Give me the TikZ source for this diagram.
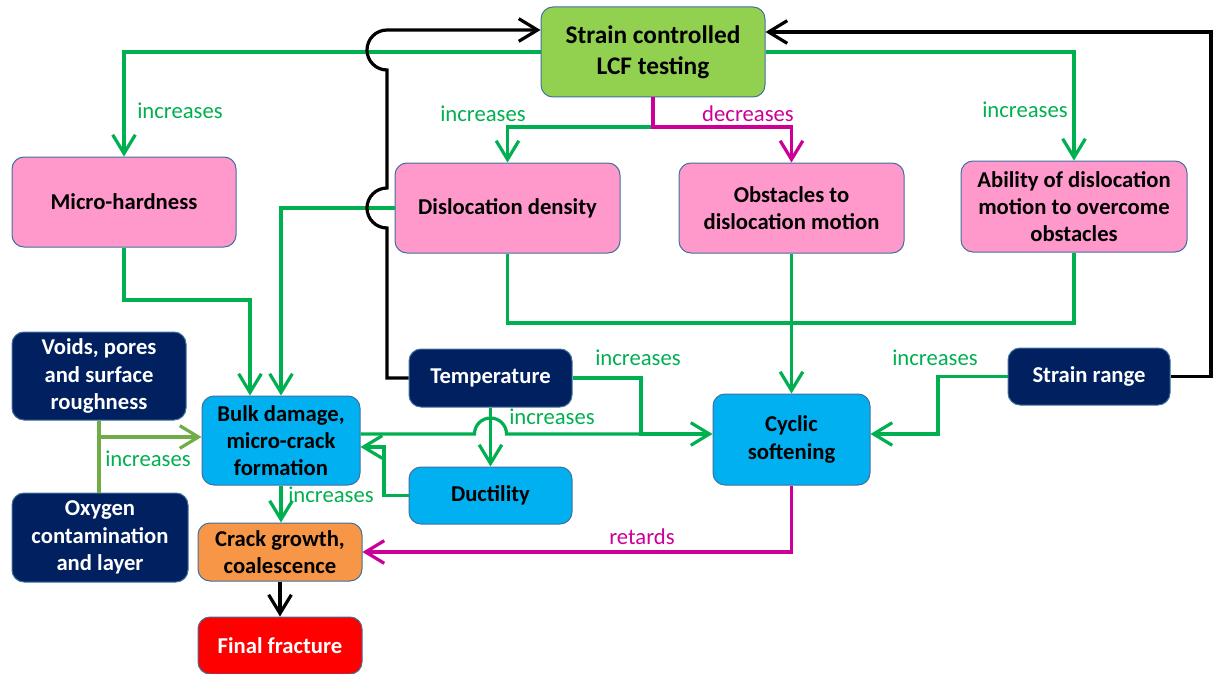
\documentclass[tikz,border=0pt]{standalone}
\usepackage{fontspec}
\setmainfont{Carlito}
\usetikzlibrary{arrows.meta}
\definecolor{lnG}{HTML}{00B050}
\definecolor{lnLG}{HTML}{70AD47}
\definecolor{lnM}{HTML}{CC0099}
\definecolor{navyc}{HTML}{002060}
\definecolor{bluec}{HTML}{00B0F0}
\definecolor{pinkc}{HTML}{FF99CC}
\definecolor{lcfc}{HTML}{92D050}
\definecolor{orangec}{HTML}{F79646}
\definecolor{redc}{HTML}{FF0000}
\definecolor{bordc}{HTML}{41719C}
\tikzset{
  box/.style={draw=bordc, line width=0.75pt, rounded corners=9pt, align=center, inner sep=1pt,
    font=\fontsize{17}{20.5}\selectfont\bfseries},
  pinkbox/.style={box, fill=pinkc, text=black},
  navybox/.style={box, fill=navyc, text=white},
  bluebox/.style={box, fill=bluec, text=black},
  gline/.style={draw=lnG, line width=2.4pt},
  lgline/.style={draw=lnLG, line width=2.4pt},
  mline/.style={draw=lnM, line width=2.4pt},
  kline/.style={draw=black, line width=2.4pt},
  arr/.style={-{Straight Barb[length=14pt,width=17pt]}},
  lbl/.style={font=\fontsize{17}{20}\selectfont, inner sep=0pt},
}
\begin{document}
\begin{tikzpicture}[x=0.75pt,y=-0.75pt]
\useasboundingbox[fill=white] (0,0) rectangle (1214,674);
% nodes
\node[box, fill=lcfc, minimum width=168pt, minimum height=67.5pt, font=\fontsize{19}{23}\selectfont\bfseries] (lcf) at (653,52) {Strain controlled\\LCF testing};
\node[pinkbox, minimum width=168pt, minimum height=67.5pt] (mh) at (124,202) {Micro-hardness};
\node[pinkbox, minimum width=168.75pt, minimum height=67.5pt] (dd) at (507.5,208) {Dislocation density};
\node[pinkbox, minimum width=168.75pt, minimum height=67.5pt] (ob) at (791.5,208) {Obstacles to\\dislocation motion};
\node[pinkbox, minimum width=169.5pt, minimum height=68.25pt] (ab) at (1074,206.5) {Ability of dislocation\\motion to overcome\\obstacles};
\node[navybox, minimum width=130.5pt, minimum height=66pt] (vo) at (99,376) {Voids, pores\\and surface\\roughness};
\node[navybox, minimum width=132pt, minimum height=66.75pt] (ox) at (100,537.5) {Oxygen\\contamination\\and layer};
\node[bluebox, minimum width=118.5pt, minimum height=66.75pt] (bd) at (281,440.5) {Bulk damage,\\micro-crack\\formation};
\node[navybox, minimum width=122.25pt, minimum height=43.5pt] (te) at (490.5,378) {Temperature};
\node[bluebox, minimum width=122.25pt, minimum height=42.75pt] (du) at (490.5,495.5) {Ductility};
\node[bluebox, minimum width=117.75pt, minimum height=68.25pt] (cs) at (791.5,439.5) {Cyclic\\softening};
\node[navybox, minimum width=121.5pt, minimum height=42.75pt] (sr) at (1089,376.5) {Strain range};
\node[box, fill=orangec, text=black, minimum width=123pt, minimum height=43.5pt] (cg) at (280,552) {Crack growth,\\coalescence};
\node[box, fill=redc, text=white, minimum width=123pt, minimum height=42.75pt] (ff) at (280,645.5) {Final fracture};
% green connectors from LCF
\draw[gline,arr] (lcf.west) -| (mh.north);
\draw[gline,arr] (lcf.south) -- (653,127) -| (dd.north);
\draw[mline,arr] (lcf.south) -- (653,127) -| (ob.north);
\draw[gline,arr] (lcf.east) -| (ab.north);
% to bulk damage
\draw[gline,arr] (mh.south) |- (250,300) -- (bd.north -| 250,0);
\draw[gline,arr] (dd.west) -| (bd.north);
% to cyclic softening
\draw[gline] (dd.south) |- (cs.north |- 0,323);
\draw[gline] (ab.south) |- (cs.north |- 0,323);
\draw[gline,arr] (ob.south) -- (cs.north);
% temperature
\draw[gline,arr] (te.east) -- (641,378) |- (cs.west |- 0,434);
\draw[gline] (641,434) -- (506.5,434) arc[start angle=0,end angle=180,radius=12pt] -- (bd.east |- 0,434);
\draw[gline,arr] (te.south) -- (du.north);
\draw[gline,arr] (du.west) -- (384,495.5) |- (bd.east |- 0,447);
% strain range
\draw[gline,arr] (sr.west) -- (938,376.5) |- (cs.east |- 0,434);
% voids / oxygen
\draw[lgline] (vo.south) -- (vo.south |- ox.north);
\draw[lgline,arr] (99,437) -- (bd.west |- 0,437);
% crack
\draw[gline,arr] (bd.south) -- (bd.south |- cg.north);
\draw[mline,arr] (cs.south) |- (cg.east);
\draw[kline,arr] (cg.south) -- (ff.north);
% black feedback loops
\draw[kline,arr] (te.west) -- (387,378) -- (387,228) arc[start angle=270,end angle=90,radius=15pt]
  -- (387,70) arc[start angle=270,end angle=90,radius=15pt] -- (lcf.west |- 0,30);
\draw[kline,arr] (sr.east) -- (1211,376.5) -- (1211,32) -- (lcf.east |- 0,32);
% labels
\node[lbl, text=lnG] (l1) at (180,111) {increases};
\node[lbl, text=lnG] (l2) at (483,114) {increases};
\node[lbl, text=lnM] (l3) at (748,114) {decreases};
\node[lbl, text=lnG] (l4) at (1025,110) {increases};
\node[lbl, text=lnG] (l5) at (638,358) {increases};
\node[lbl, text=lnG] (l6) at (552,417) {increases};
\node[lbl, text=lnG] (l7) at (935,358) {increases};
\node[lbl, text=lnG] (l8) at (148,459) {increases};
\node[lbl, text=lnG] (l9) at (331,495) {increases};
\node[lbl, text=lnM] (l10) at (642,537) {retards};
\end{tikzpicture}
\end{document}
